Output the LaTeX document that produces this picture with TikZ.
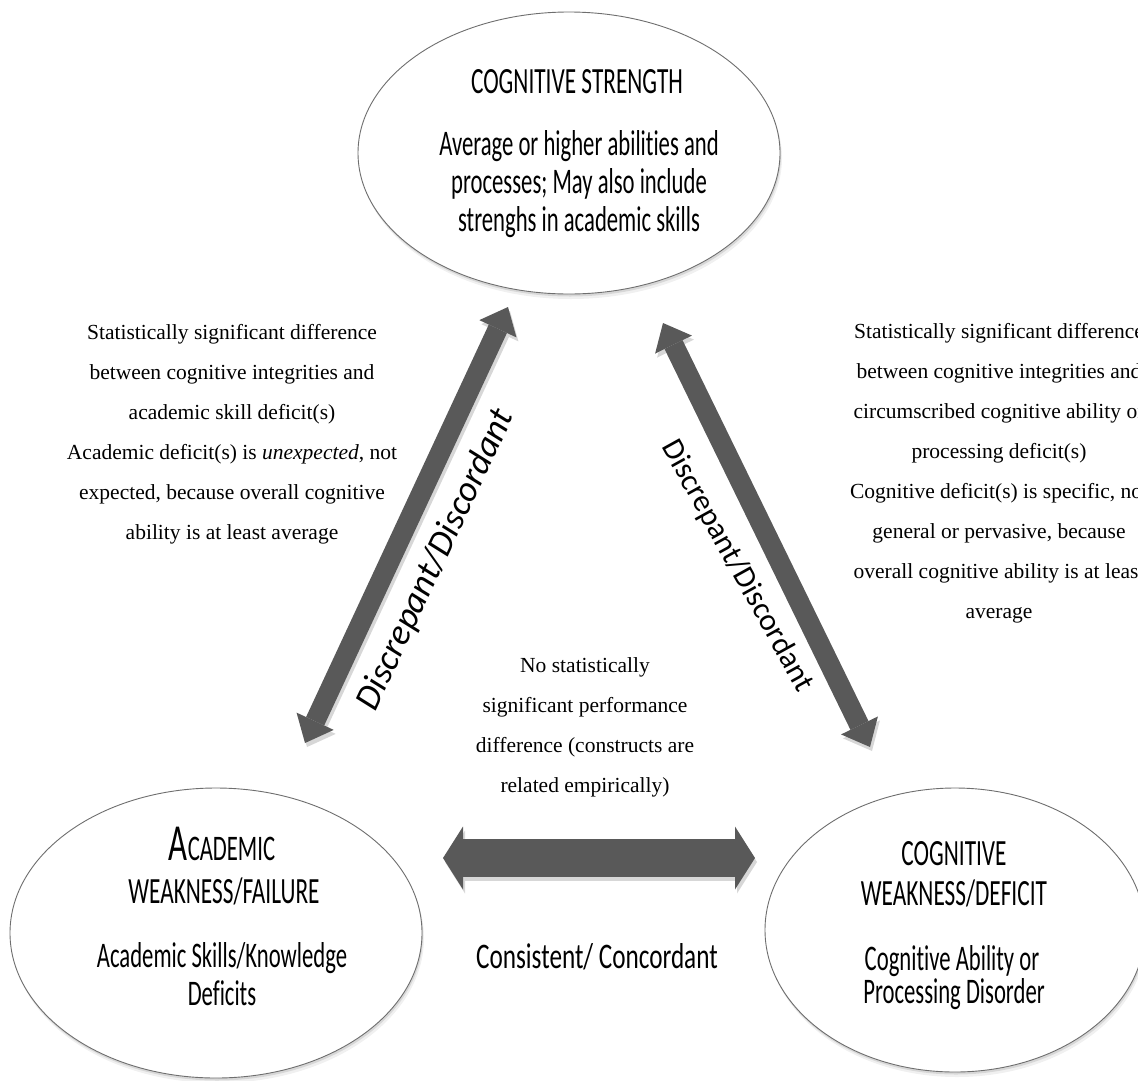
\documentclass[tikz,border=0pt]{standalone}
\usepackage{fontspec}
\setmainfont{Liberation Serif}
\newfontfamily\condfont[FakeStretch=0.63,Ligatures=NoCommon]{Carlito}
\newfontfamily\wcondfont[FakeStretch=0.70,Ligatures=NoCommon]{Carlito}
\newfontfamily\calfont[Ligatures=NoCommon]{Carlito}
\usetikzlibrary{shapes.geometric,arrows.meta,shadows}
\definecolor{arrowgray}{RGB}{89,89,89}
\definecolor{rimgray}{RGB}{110,110,110}
\definecolor{shadegray}{RGB}{215,215,215}
\begin{document}
\begin{tikzpicture}[x=1pt,y=-1pt,
  bubble/.style={ellipse, draw=rimgray, line width=0.9pt, fill=white, inner sep=0pt,
    drop shadow={shadow xshift=2pt,shadow yshift=-5pt,opacity=0.12},
    drop shadow={shadow xshift=1pt,shadow yshift=-2.5pt,opacity=0.22}},
  stxt/.style={font=\fontsize{21.5}{24}\selectfont, anchor=base, inner sep=0pt},
  ctxt/.style={font=\condfont\fontsize{36}{38}\selectfont, anchor=base, inner sep=0pt},
  htxt/.style={font=\condfont\fontsize{37}{38}\selectfont, anchor=base, inner sep=0pt},
  diagarrow/.style={draw=arrowgray, line width=20pt,
    {Triangle[length=24pt,width=41pt,line width=0pt]}-{Triangle[length=24pt,width=41pt,line width=0pt]}},
  horarrow/.style={draw=arrowgray, line width=38pt,
    {Triangle[length=20pt,width=63pt,line width=0pt]}-{Triangle[length=20pt,width=63pt,line width=0pt]}},
  arrowshadow/.style={draw=shadegray, transform canvas={shift={(2pt,-4pt)}}},
  difflabel/.style={inner sep=0pt, anchor=center}
]
\useasboundingbox (0,0) rectangle (1138,1080);
\clip (0,0) rectangle (1138,1080);

% ellipses
\node[bubble, minimum width=422pt, minimum height=282pt] (strength) at (569,153) {};
\node[bubble, minimum width=412pt, minimum height=290pt] (academic) at (216,933) {};
\node[bubble, minimum width=380pt, minimum height=284pt] (cogweak) at (955,930) {};

% top ellipse text
\node[htxt] (s1) at (577,93) {COGNITIVE STRENGTH};
\node[ctxt] (s2) at (579,155) {Average or higher abilities and};
\node[ctxt] (s3) at (579,193) {processes; May also include};
\node[ctxt] (s4) at (579,231) {strenghs in academic skills};

% left ellipse text
\node[htxt] (a1) at (222,860) {{\fontsize{52}{52}\selectfont A}{\fontsize{36}{36}\selectfont CADEMIC}};
\node[htxt] (a2) at (224,903) {WEAKNESS/FAILURE};
\node[ctxt] (a3) at (222,967) {Academic Skills/Knowledge};
\node[ctxt] (a4) at (222,1005) {Deficits};

% right ellipse text
\node[htxt] (c1) at (954,865) {COGNITIVE};
\node[htxt] (c2) at (954,905) {WEAKNESS/DEFICIT};
\node[ctxt] (c3) at (952,970) {Cognitive Ability or};
\node[ctxt] (c4) at (954,1003) {Processing Disorder};

% arrow end points
\coordinate (lB) at (305,743);
\coordinate (lT) at (508,307);
\coordinate (rT) at (663,323);
\coordinate (rB) at (870,747);
\coordinate (hL) at (443,858);
\coordinate (hR) at (755,858);

% arrow shadows
\draw[diagarrow, arrowshadow] (lB) -- (lT);
\draw[diagarrow, arrowshadow] (rT) -- (rB);
\draw[horarrow, arrowshadow] (hL) -- (hR);
% arrows
\draw[diagarrow] (lB) -- (lT);
\draw[diagarrow] (rT) -- (rB);
\draw[horarrow] (hL) -- (hR);

% arrow labels
\node[difflabel, rotate=65, font=\calfont\itshape\fontsize{36}{36}\selectfont] (dl) at (436,560) {Discrepant/Discordant};
\node[difflabel, rotate=-61, font=\calfont\fontsize{31}{31}\selectfont] (dr) at (737,566) {Discrepant/Discordant};
\node[anchor=base, inner sep=0pt, font=\wcondfont\fontsize{36}{36}\selectfont] (cc) at (597,968) {Consistent/ Concordant};

% left text block
\node[stxt] (l1) at (232,339) {Statistically significant difference};
\node[stxt] (l2) at (232,379) {between cognitive integrities and};
\node[stxt] (l3) at (232,419) {academic skill deficit(s)};
\node[stxt] (l4) at (232,459) {Academic deficit(s) is \textit{unexpected}, not};
\node[stxt] (l5) at (232,499) {expected, because overall cognitive};
\node[stxt] (l6) at (232,539) {ability is at least average};

% right text block
\node[stxt] (r1) at (999,338) {Statistically significant difference};
\node[stxt] (r2) at (999,378) {between cognitive integrities and};
\node[stxt] (r3) at (999,418) {circumscribed cognitive ability or};
\node[stxt] (r4) at (999,458) {processing deficit(s)};
\node[stxt] (r5) at (999,498) {Cognitive deficit(s) is specific, not};
\node[stxt] (r6) at (999,538) {general or pervasive, because};
\node[stxt] (r7) at (999,578) {overall cognitive ability is at least};
\node[stxt] (r8) at (999,618) {average};

% middle text block
\node[stxt] (m1) at (585,672) {No statistically};
\node[stxt] (m2) at (585,712) {significant performance};
\node[stxt] (m3) at (585,752) {difference (constructs are};
\node[stxt] (m4) at (585,792) {related empirically)};
\end{tikzpicture}
\end{document}
